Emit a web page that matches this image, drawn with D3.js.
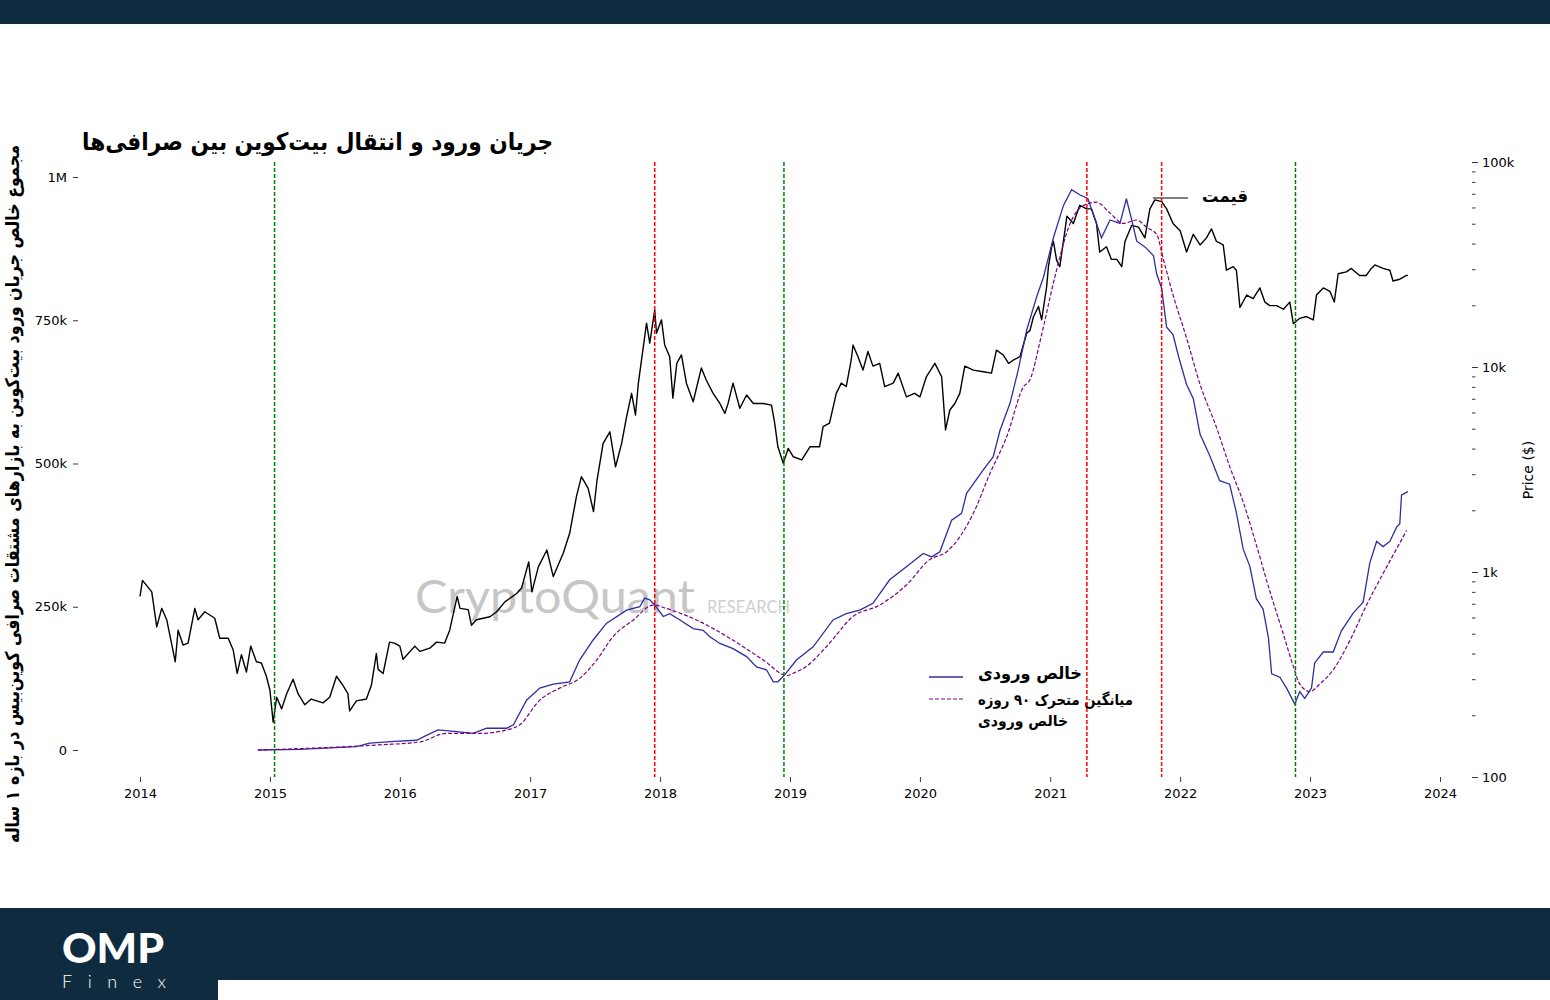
<!DOCTYPE html>
<html>
<head>
<meta charset="utf-8">
<script src="https://cdn.jsdelivr.net/npm/d3@7"></script>
<style>
  body { margin: 0; background: #fff; }
  svg text { font-family: "DejaVu Sans", sans-serif; }
</style>
</head>
<body>
<script>
// price of BTC ($)
var priceDates = ["2014-01-01","2014-01-08","2014-02-03","2014-02-17","2014-03-03","2014-03-17","2014-04-10","2014-04-18","2014-05-02","2014-05-16","2014-06-04","2014-06-13","2014-07-02","2014-07-30","2014-08-13","2014-09-06","2014-09-20","2014-10-01","2014-10-13","2014-10-27","2014-11-08","2014-11-24","2014-12-08","2014-12-22",
  "2015-01-01","2015-01-10","2015-01-20","2015-02-03","2015-02-17","2015-03-07","2015-03-21","2015-04-09","2015-04-27","2015-05-30","2015-06-18","2015-07-07","2015-07-25","2015-08-08","2015-08-13","2015-09-01","2015-09-29","2015-10-13","2015-10-27","2015-11-01","2015-11-15","2015-12-03","2015-12-17",
  "2016-01-01","2016-01-10","2016-02-12","2016-02-26","2016-03-25","2016-04-13","2016-05-06","2016-05-20","2016-06-10","2016-06-18","2016-07-11","2016-07-20","2016-08-03","2016-09-10","2016-09-29","2016-10-22","2016-11-24","2016-12-08","2016-12-28",
  "2017-01-06","2017-01-24","2017-02-17","2017-03-07","2017-04-04","2017-04-22","2017-05-11","2017-05-25","2017-06-13","2017-06-28","2017-07-08","2017-07-25","2017-08-13","2017-08-29","2017-09-15","2017-09-29","2017-10-13","2017-10-24","2017-11-01","2017-11-15","2017-11-24","2017-12-03","2017-12-17","2017-12-22",
  "2018-01-05","2018-01-14","2018-01-28","2018-02-06","2018-02-17","2018-03-02","2018-03-16","2018-04-04","2018-04-27","2018-05-11","2018-05-30","2018-06-18","2018-07-02","2018-07-11","2018-07-25","2018-08-13","2018-09-01","2018-09-20","2018-10-18","2018-11-10","2018-11-19","2018-11-28","2018-12-13","2018-12-27",
  "2019-01-10","2019-02-03","2019-02-26","2019-03-25","2019-04-04","2019-04-22","2019-05-11","2019-05-25","2019-06-08","2019-06-22","2019-06-27","2019-07-11","2019-07-25","2019-08-08","2019-08-22","2019-09-10","2019-09-24","2019-10-18","2019-11-01","2019-11-24","2019-12-17",
  "2020-01-01","2020-01-19","2020-02-12","2020-03-02","2020-03-13","2020-03-25","2020-04-08","2020-04-22","2020-05-06","2020-05-30","2020-06-27","2020-07-20","2020-08-03","2020-08-22","2020-09-06","2020-09-20","2020-10-08","2020-10-27","2020-11-05","2020-11-15","2020-11-29","2020-12-08","2020-12-22","2020-12-27",
  "2021-01-05","2021-01-10","2021-01-19","2021-01-28","2021-02-17","2021-03-07","2021-03-25","2021-04-13","2021-04-27","2021-05-11","2021-05-20","2021-06-08","2021-06-22","2021-07-07","2021-07-21","2021-07-30","2021-08-18","2021-09-06","2021-09-24","2021-10-08","2021-10-22","2021-11-10","2021-11-24","2021-12-12",
  "2022-01-01","2022-01-19","2022-02-07","2022-02-26","2022-03-16","2022-03-30","2022-04-13","2022-05-02","2022-05-11","2022-05-30","2022-06-08","2022-06-18","2022-07-07","2022-07-25","2022-08-13","2022-08-27","2022-09-10","2022-09-29","2022-10-18","2022-11-05","2022-11-15","2022-12-03","2022-12-22",
  "2023-01-10","2023-01-19","2023-02-07","2023-02-26","2023-03-10","2023-03-21","2023-04-13","2023-04-27","2023-05-20","2023-06-08","2023-06-22","2023-07-02","2023-07-25","2023-08-13","2023-08-22","2023-09-10","2023-09-29","2023-10-03"];
var priceValues = [760,910,800,540,665,585,365,520,440,450,665,585,640,595,475,475,415,320,395,325,435,365,360,310,
  265,185,245,215,255,300,255,225,240,230,245,310,280,255,210,235,240,280,400,335,320,455,450,
  435,375,435,410,425,455,450,520,760,665,655,550,585,605,640,715,785,835,1120,
  800,1060,1280,950,1235,1545,2330,2920,2560,1970,2810,4240,4830,3260,4240,5720,7440,5830,8340,12570,16360,13070,18980,14610,
  16980,12800,11230,7050,10420,11450,8340,6770,9900,8620,7440,6640,5940,6640,8340,6290,7300,6640,6640,6520,5320,4080,3390,4010,
  3650,3520,4080,4080,5120,5320,7440,8340,8030,10820,12800,11230,9660,11900,10100,10420,8030,8340,9330,7150,7440,
  7150,8960,10420,8960,4930,6170,6640,7440,10100,9660,9480,9330,12090,11450,10420,10820,11230,14610,15040,17580,19730,17000,24680,30870,
  38520,40990,33200,30870,54430,50100,61520,59050,59050,50100,36360,38610,33490,33490,30870,40990,49090,48140,42640,59050,65340,64060,59050,50100,
  46230,36360,44400,39400,42640,47190,40990,39400,29660,30870,29660,19510,22440,21560,24300,20730,19920,19920,19130,20730,16270,17280,17630,
  16960,22440,24300,23380,20730,28520,29090,30260,27960,27960,30260,31480,30260,29660,26280,26800,27960,28000];

// 1-year cumulative net inflow (thousand BTC)
var flowDates = ["2014-11-28","2015-03-25","2015-09-01","2015-10-08","2015-12-17","2016-02-17","2016-03-07","2016-04-17","2016-06-08","2016-07-25","2016-09-01","2016-10-27","2016-11-15","2016-12-22",
  "2017-01-28","2017-03-07","2017-04-22","2017-05-20","2017-06-27","2017-08-03","2017-09-29","2017-11-05","2017-11-19","2017-12-03","2017-12-17",
  "2018-01-10","2018-01-28","2018-02-26","2018-04-04","2018-05-02","2018-05-20","2018-06-18","2018-07-25","2018-09-01","2018-09-29","2018-10-27","2018-11-15","2018-11-28","2018-12-17",
  "2019-01-19","2019-03-07","2019-05-02","2019-06-08","2019-07-16","2019-08-22","2019-10-08","2019-11-24",
  "2020-01-10","2020-02-03","2020-02-26","2020-03-30","2020-04-27","2020-05-11","2020-06-27","2020-07-25","2020-08-13","2020-09-10","2020-10-03","2020-10-27","2020-11-24","2020-12-13",
  "2021-01-10","2021-02-07","2021-03-02","2021-03-25","2021-04-17","2021-05-11","2021-05-25","2021-06-18","2021-07-16","2021-08-03","2021-08-18","2021-09-01","2021-09-24","2021-10-18","2021-10-27","2021-11-10","2021-11-24","2021-12-12","2021-12-27",
  "2022-01-19","2022-02-07","2022-02-26","2022-03-25","2022-04-22","2022-05-20","2022-06-08","2022-06-27","2022-07-16","2022-08-03","2022-08-22","2022-09-06","2022-09-15","2022-10-08","2022-10-27","2022-11-19","2022-12-03","2022-12-17",
  "2023-01-05","2023-01-14","2023-02-07","2023-03-07","2023-03-30","2023-05-02","2023-05-30","2023-06-18","2023-07-07","2023-07-25","2023-08-13","2023-09-01","2023-09-10","2023-09-15","2023-10-03"];
var flowValues = [0,1,6,12,15,17,23,35,32,29,38,38,44,87,
  108,115,119,157,192,221,244,250,265,262,253,
  233,238,227,212,209,198,186,177,163,145,140,119,119,131,
  157,180,227,238,244,256,297,320,
  343,337,346,401,413,448,489,512,558,605,663,733,791,825,
  894,950,978,969,962,919,894,925,919,962,925,888,878,863,831,806,738,725,688,
  638,613,551,514,470,464,414,351,320,264,246,196,133,127,108,80,102,90,
  108,152,171,171,208,239,258,327,364,355,364,389,395,445,451];

// 90-day moving average of net inflow (thousand BTC)
var maDates = ["2014-11-28","2015-11-05","2016-02-26","2016-05-11","2016-08-13","2016-10-27","2016-12-03",
  "2017-01-28","2017-03-25","2017-05-20","2017-07-07","2017-08-22","2017-10-18","2017-12-13",
  "2018-01-19","2018-04-13","2018-07-16","2018-10-18","2018-12-24",
  "2019-01-10","2019-02-07","2019-04-13","2019-06-27","2019-09-10","2019-11-24",
  "2020-01-28","2020-03-16","2020-04-22","2020-05-30","2020-07-16","2020-09-01","2020-10-18","2020-11-05","2020-12-06",
  "2021-01-15","2021-02-26","2021-04-04","2021-05-11","2021-06-18","2021-07-25","2021-09-01","2021-09-29","2021-10-27","2021-11-15","2021-12-12",
  "2022-01-19","2022-02-26","2022-04-13","2022-05-20","2022-06-27","2022-08-03","2022-09-10","2022-10-18","2022-11-15","2022-12-03",
  "2023-01-01","2023-01-28","2023-03-07","2023-04-22","2023-06-08","2023-07-25","2023-09-01","2023-09-29"];
var maValues = [0,9,14,29,29,35,44,
  87,108,125,157,198,227,253,
  247,227,195,157,130,
  134,142,180,233,253,288,
  332,346,372,413,483,547,634,646,720,
  828,919,950,956,937,919,925,912,900,856,794,
  719,638,563,495,433,358,277,202,146,115,
  102,115,140,190,252,308,351,383];

// event markers
var eventDates = ["2015-01-14","2017-12-17","2018-12-15","2021-04-14","2021-11-10","2022-11-21"];
var eventColors = ["#008000","#ff0000","#008000","#ff0000","#ff0000","#008000"];

var yearTicks = ["2014","2015","2016","2017","2018","2019","2020","2021","2022","2023","2024"];
var flowTickValues = [0,250,500,750,1000];
var flowTickLabels = ["0","250k","500k","750k","1M"];
var priceTickValues = [100,1000,10000,100000];
var priceTickLabels = ["100","1k","10k","100k"];

var navy = "#0f2b40";
var parse = d3.timeParse("%Y-%m-%d");

var svg = d3.select("body").append("svg").attr("width", 1550).attr("height", 1000);
svg.append("rect").attr("width", 1550).attr("height", 1000).attr("fill", "#fff");

// header / footer bands
svg.append("rect").attr("x", 0).attr("y", 0).attr("width", 1550).attr("height", 24).attr("fill", navy);
svg.append("rect").attr("x", 0).attr("y", 908).attr("width", 1550).attr("height", 92).attr("fill", navy);
svg.append("rect").attr("x", 218).attr("y", 980).attr("width", 1332).attr("height", 20).attr("fill", "#fff");
svg.append("text").attr("x", 62).attr("y", 963).attr("fill", "#fff")
  .style("font-family", "Lato").style("font-weight", 900).style("font-size", "41px")
  .attr("textLength", 102).attr("lengthAdjust", "spacingAndGlyphs").text("OMP");
svg.append("text").attr("x", 62).attr("y", 988).attr("fill", "#fff")
  .style("font-family", "Lato").style("font-weight", 300).style("font-size", "18px")
  .attr("textLength", 104).attr("lengthAdjust", "spacing").text("Finex");

var x = d3.scaleTime().domain([parse("2014-01-01"), parse("2024-01-01")]).range([140, 1440]);
var yFlow = d3.scaleLinear().domain([0, 1000]).range([750, 177]);
var yPrice = d3.scaleLog().domain([100, 100000]).range([777, 162]);

// watermark
svg.append("text").attr("x", 415).attr("y", 613).attr("fill", "#c6c6c6")
  .style("font-family", "Lato").style("font-size", "47px")
  .attr("textLength", 280).attr("lengthAdjust", "spacingAndGlyphs").text("CryptoQuant");
svg.append("text").attr("x", 707).attr("y", 613).attr("fill", "#cfcfcf")
  .style("font-family", "Lato").style("font-size", "17px")
  .attr("textLength", 83).attr("lengthAdjust", "spacingAndGlyphs").text("RESEARCH");

// axes
var xAxis = d3.axisBottom(x)
  .tickValues(yearTicks.map(function(d){ return parse(d + "-01-01") }))
  .tickFormat(d3.timeFormat("%Y")).tickSize(5).tickPadding(7).tickSizeOuter(0);
var gx = svg.append("g").attr("transform", "translate(0,777)").call(xAxis);

var leftAxis = d3.axisLeft(yFlow).tickValues(flowTickValues)
  .tickFormat(function(d, i){ return flowTickLabels[i] }).tickSize(5).tickPadding(6).tickSizeOuter(0);
var gl = svg.append("g").attr("transform", "translate(78,0)").call(leftAxis);

var minorTicks = yPrice.ticks().filter(function(d){ return priceTickValues.indexOf(d) < 0 });
var gr2 = svg.append("g").attr("transform", "translate(1472,0)")
  .call(d3.axisRight(yPrice).tickValues(minorTicks).tickFormat("").tickSize(3.5).tickSizeOuter(0));
var gr = svg.append("g").attr("transform", "translate(1472,0)")
  .call(d3.axisRight(yPrice).tickValues(priceTickValues)
    .tickFormat(function(d, i){ return priceTickLabels[i] }).tickSize(6).tickPadding(4).tickSizeOuter(0));

[gx, gl, gr, gr2].forEach(function(g){
  g.select(".domain").remove();
  g.selectAll("text").style("font-size", "13px").style("font-family", "DejaVu Sans").attr("fill", "#000");
  g.selectAll("line").attr("stroke", "#222").attr("stroke-width", 0.9);
});

// series
var priceData = priceDates.map(function(d, i){ return { date: parse(d), v: priceValues[i] } });
var flowData = flowDates.map(function(d, i){ return { date: parse(d), v: flowValues[i] } });
var maData = maDates.map(function(d, i){ return { date: parse(d), v: maValues[i] } });

svg.append("path").datum(priceData)
  .attr("d", d3.line().x(function(d){ return x(d.date) }).y(function(d){ return yPrice(d.v) }))
  .attr("fill", "none").attr("stroke", "#000").attr("stroke-width", 1.4).attr("stroke-linejoin", "round");

var flowLine = d3.line().x(function(d){ return x(d.date) }).y(function(d){ return yFlow(d.v) });
svg.append("path").datum(flowData).attr("d", flowLine)
  .attr("fill", "none").attr("stroke", "#2e2e9e").attr("stroke-width", 1.3);
svg.append("path").datum(maData).attr("d", flowLine.curve(d3.curveMonotoneX))
  .attr("fill", "none").attr("stroke", "#800080").attr("stroke-width", 1.2).attr("stroke-dasharray", "4,2");

// price annotation
var peak = priceData[priceDates.indexOf("2021-10-22")];
svg.append("line").attr("x1", x(peak.date) - 2).attr("x2", 1188)
  .attr("y1", 198).attr("y2", 198).attr("stroke", "#000").attr("stroke-width", 1);
svg.append("text").attr("x", 1202).attr("y", 202).style("font-size", "17px").style("font-weight", "bold")
  .attr("textLength", 46).attr("lengthAdjust", "spacingAndGlyphs").text("قیمت");

// legend
svg.append("line").attr("x1", 929).attr("x2", 963).attr("y1", 677).attr("y2", 677)
  .attr("stroke", "#2e2e9e").attr("stroke-width", 1.3);
svg.append("line").attr("x1", 929).attr("x2", 963).attr("y1", 699).attr("y2", 699)
  .attr("stroke", "#800080").attr("stroke-width", 1.2).attr("stroke-dasharray", "4,2");
svg.append("text").attr("x", 978).attr("y", 679).style("font-size", "17px").style("font-weight", "bold")
  .attr("textLength", 104).attr("lengthAdjust", "spacingAndGlyphs").text("خالص ورودی");
svg.append("text").attr("x", 978).attr("y", 705).style("font-size", "15px").style("font-weight", "bold")
  .attr("textLength", 155).attr("lengthAdjust", "spacingAndGlyphs").text("میانگین متحرک ۹۰ روزه");
svg.append("text").attr("x", 978).attr("y", 726).style("font-size", "15px").style("font-weight", "bold")
  .attr("textLength", 90).attr("lengthAdjust", "spacingAndGlyphs").text("خالص ورودی");

// event lines
svg.selectAll(".event").data(eventDates).enter().append("line")
  .attr("x1", function(d){ return x(parse(d)) }).attr("x2", function(d){ return x(parse(d)) })
  .attr("y1", 162).attr("y2", 777)
  .attr("stroke", function(d, i){ return eventColors[i] })
  .attr("stroke-width", 1.5).attr("stroke-dasharray", "4,2");

// titles
svg.append("text").attr("x", 82).attr("y", 150).style("font-size", "24px").style("font-weight", "bold")
  .attr("textLength", 471).attr("lengthAdjust", "spacingAndGlyphs")
  .text("جریان ورود و انتقال بیت‌کوین بین صرافی‌ها");
svg.append("text").attr("transform", "translate(19,494) rotate(-90)").attr("text-anchor", "middle")
  .style("font-size", "19px").style("font-weight", "bold")
  .attr("textLength", 698).attr("lengthAdjust", "spacingAndGlyphs")
  .text("مجموع خالص جریان ورود بیت‌کوین به بازارهای مشتقات صرافی کوین‌بیس در بازه ۱ ساله");
svg.append("text").attr("transform", "translate(1533,470) rotate(-90)").attr("text-anchor", "middle")
  .style("font-size", "14px").text("Price ($)");
</script>
</body>
</html>
